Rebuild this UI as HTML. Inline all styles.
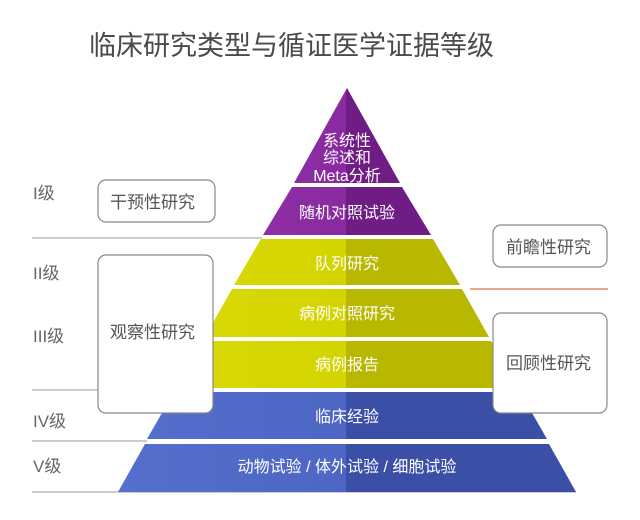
<!DOCTYPE html>
<html><head><meta charset="utf-8"><style>
body{margin:0;background:#fff;}
svg{display:block}
text{font-family:"Liberation Sans","Noto Sans CJK SC",sans-serif;}
</style></head><body>
<svg width="640" height="520" viewBox="0 0 640 520">
<defs>
<linearGradient id="p" gradientUnits="userSpaceOnUse" x1="0" x2="640" y1="0" y2="0"><stop offset="0" stop-color="#9a3cb0"/><stop offset="0.541" stop-color="#8a2aa0"/><stop offset="0.541" stop-color="#6f1c85"/><stop offset="1" stop-color="#6f1c85"/></linearGradient>
<linearGradient id="y" gradientUnits="userSpaceOnUse" x1="0" x2="640" y1="0" y2="0"><stop offset="0" stop-color="#dede10"/><stop offset="0.541" stop-color="#d4d400"/><stop offset="0.541" stop-color="#b8b800"/><stop offset="1" stop-color="#b8b800"/></linearGradient>
<linearGradient id="b" gradientUnits="userSpaceOnUse" x1="0" x2="640" y1="0" y2="0"><stop offset="0" stop-color="#5a74d0"/><stop offset="0.541" stop-color="#4d66c4"/><stop offset="0.541" stop-color="#3c4fa6"/><stop offset="1" stop-color="#3c4fa6"/></linearGradient>
</defs>
<text x="89" y="55" font-size="27" fill="#4a4a4a">临床研究类型与循证医学证据等级</text>
<g stroke="#bbb" stroke-width="1.5">
<line x1="32" y1="238" x2="262" y2="238"/>
<line x1="32" y1="390" x2="176" y2="390"/>
<line x1="32" y1="441" x2="147" y2="441"/>
<line x1="32" y1="492" x2="576" y2="492"/>
</g>
<line x1="470" y1="289" x2="608" y2="289" stroke="#e08a6a" stroke-width="1.5"/>
<polygon points="347,88 400,183 294,183" fill="url(#p)"/>
<polygon points="292,187 402,187 431,235 263,235" fill="url(#p)"/>
<polygon points="261,239 433,239 460,285 234,285" fill="url(#y)"/>
<polygon points="232,289 462,289 489,337 205,337" fill="url(#y)"/>
<polygon points="203,341 491,341 518,388 176,388" fill="url(#y)"/>
<polygon points="174,392 520,392 547,439 147,439" fill="url(#b)"/>
<polygon points="145,444 549,444 576,492 118,492" fill="url(#b)"/>
<g fill="#fff" font-size="16" text-anchor="middle">
<text x="347" y="146">系统性</text>
<text x="347" y="163">综述和</text>
<text x="347" y="181">Meta分析</text>
<text x="347" y="218">随机对照试验</text>
<text x="347" y="269">队列研究</text>
<text x="347" y="319">病例对照研究</text>
<text x="347" y="370">病例报告</text>
<text x="347" y="422">临床经验</text>
<text x="347" y="472">动物试验 / 体外试验 / 细胞试验</text>
</g>
<g fill="#fff" stroke="#888" stroke-width="1.2">
<rect x="98" y="180" width="117" height="42" rx="8"/>
<rect x="98" y="255" width="115" height="158" rx="8"/>
<rect x="493" y="225" width="114" height="42" rx="8"/>
<rect x="493" y="313" width="114" height="100" rx="8"/>
</g>
<g fill="#555" font-size="17">
<text x="110" y="208">干预性研究</text>
<text x="110" y="338">观察性研究</text>
<text x="506" y="253">前瞻性研究</text>
<text x="506" y="369">回顾性研究</text>
</g>
<g fill="#666" font-size="17">
<text x="33" y="199">I级</text>
<text x="33" y="279">II级</text>
<text x="33" y="342">III级</text>
<text x="33" y="427">IV级</text>
<text x="33" y="472">V级</text>
</g>
</svg>
</body></html>
